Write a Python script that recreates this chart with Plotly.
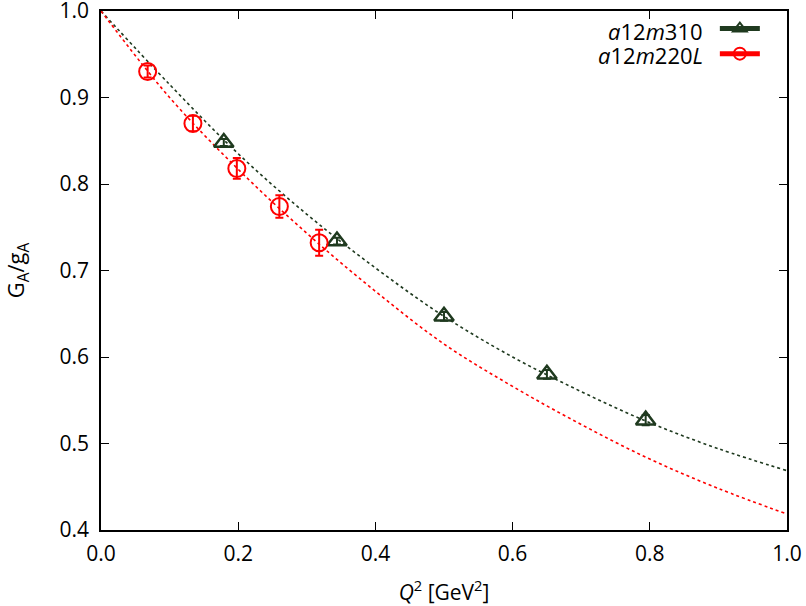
import plotly.graph_objects as go

# lattice points
q2_m310 = [0.179, 0.344, 0.500, 0.650, 0.794]
ga_m310 = [0.848, 0.734, 0.647, 0.580, 0.527]
err_m310 = [0.004, 0.004, 0.005, 0.005, 0.006]

q2_m220 = [0.068, 0.134, 0.198, 0.260, 0.318]
ga_m220 = [0.930, 0.870, 0.818, 0.774, 0.732]
err_m220 = [0.007, 0.009, 0.012, 0.013, 0.015]

# fit curves
q2_fit = [0.0, 0.1, 0.2, 0.3, 0.4, 0.5, 0.6, 0.7, 0.8, 0.9, 1.0]
fit_m310 = [1.0, 0.915, 0.835, 0.765, 0.703, 0.647, 0.600, 0.560, 0.524, 0.494, 0.4686]
fit_m220 = [1.0, 0.900, 0.817, 0.743, 0.676, 0.615, 0.566, 0.522, 0.482, 0.448, 0.4185]

x_ticks = [0.0, 0.2, 0.4, 0.6, 0.8, 1.0]
y_ticks = [0.4, 0.5, 0.6, 0.7, 0.8, 0.9, 1.0]

labels = ["<i>a</i>12<i>m</i>310", "<i>a</i>12<i>m</i>220<i>L</i>"]

green = "#1f3a1f"
red = "#ff0000"
font = "Open Sans"

fig = go.Figure()

fig.add_trace(go.Scatter(x=q2_fit, y=fit_m310, mode="lines", line_shape="spline",
                         line=dict(color=green, width=1.6, dash="dot"), showlegend=False))
fig.add_trace(go.Scatter(x=q2_fit, y=fit_m220, mode="lines", line_shape="spline",
                         line=dict(color=red, width=1.6, dash="dot"), showlegend=False))

fig.add_trace(go.Scatter(x=q2_m310, y=ga_m310, mode="markers", showlegend=False,
                         error_y=dict(array=err_m310, color=green, thickness=2, width=4),
                         marker=dict(symbol="triangle-up-open", size=17, color=green,
                                     line=dict(width=2.5, color=green))))
fig.add_trace(go.Scatter(x=q2_m220, y=ga_m220, mode="markers", showlegend=False,
                         error_y=dict(array=err_m220, color=red, thickness=2, width=4),
                         marker=dict(symbol="circle-open", size=17, color=red,
                                     line=dict(width=2, color=red))))

# legend keys: line + symbol, text drawn to the left like gnuplot does
for col, sym in [(green, "triangle-up-open"), (red, "circle-open")]:
    fig.add_trace(go.Scatter(x=[None], y=[None], mode="lines+markers", name="",
                             line=dict(color=col, width=1),
                             marker=dict(symbol=sym, size=16, color=col,
                                         line=dict(width=2.5, color=col))))

for i, lab in enumerate(labels):
    fig.add_annotation(text=lab, xref="paper", yref="paper", x=0.881, y=0.962 - i * 0.046,
                       xanchor="right", yanchor="middle", showarrow=False,
                       font=dict(family=font, size=22, color="black"))

axis = dict(showline=True, linecolor="black", linewidth=1.5, mirror="ticks",
            ticks="inside", ticklen=8, tickcolor="black", showgrid=False, zeroline=False,
            automargin=False, tickmode="array", ticklabeloverflow="allow",
            tickfont=dict(family=font, size=21, color="black"))

fig.update_layout(
    width=806, height=606,
    margin=dict(l=101, r=19, t=11, b=76),
    plot_bgcolor="white", paper_bgcolor="white",
    xaxis=dict(range=[0, 1], tickvals=x_ticks, ticktext=[f"{v:.1f}" for v in x_ticks],
               ticklabelstandoff=4,
               title=dict(text="<i>Q</i><sup>2</sup> [GeV<sup>2</sup>]", standoff=30,
                          font=dict(family=font, size=21, color="black")), **axis),
    yaxis=dict(range=[0.4, 1.0], tickvals=y_ticks, ticktext=[f"{v:.1f}" for v in y_ticks],
               ticklabelstandoff=6,
               title=dict(text="G<sub>A</sub>/g<sub>A</sub>", standoff=47,
                          font=dict(family=font, size=22, color="black")), **axis),
    legend=dict(x=0.975, y=1.0, xanchor="right", yanchor="top", bgcolor="rgba(0,0,0,0)",
                font=dict(family=font, size=17), itemwidth=40, tracegroupgap=0,
                itemsizing="constant"),
)

# drop the default body margin so the figure fills the window
fig.write_html("out.html", config={"displayModeBar": False},
               post_script="document.body.style.margin='0';")
